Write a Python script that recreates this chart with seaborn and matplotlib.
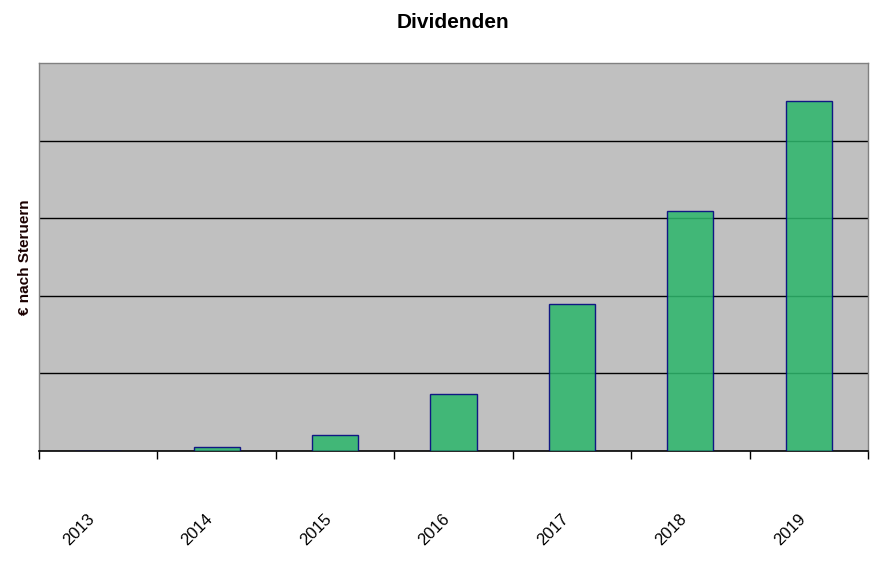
import matplotlib
matplotlib.use("Agg")
import matplotlib.pyplot as plt
import matplotlib.transforms as mtransforms
import seaborn as sns
import pandas as pd

years = ["2013", "2014", "2015", "2016", "2017", "2018", "2019"]
dividends = [0, 4.8, 20, 73, 189, 309, 451]

sns.set_theme(style="white")
plt.rcParams['font.family'] = ['Liberation Sans', 'DejaVu Sans']
plt.rcParams['text.color'] = 'black'
plt.rcParams['xtick.color'] = 'black'
plt.rcParams['axes.labelcolor'] = 'black'

df = pd.DataFrame({"Jahr": years, "Dividende": dividends})

fig, ax = plt.subplots(figsize=(8.85, 5.75), dpi=100)
fig.subplots_adjust(left=39/885, right=868/885, top=1-63/575, bottom=1-451/575)
ax.set_facecolor("#c0c0c0")

sns.barplot(data=df, x="Jahr", y="Dividende", ax=ax, color="#2eb66c",
            width=0.39, edgecolor="#000080", linewidth=1.0, alpha=0.87,
            saturation=1, zorder=3)

ax.set_ylim(0, 500)
ax.set_xlim(-0.5, len(years) - 0.5)
ax.set_yticks([100, 200, 300, 400])
ax.yaxis.grid(True, color="black", linewidth=1.0, zorder=1)
ax.set_axisbelow(True)
ax.tick_params(axis="y", left=False, labelleft=False)

ax.set_xticks(range(len(years)))
ax.set_xticklabels(years, rotation=45, ha="right", rotation_mode="anchor",
                   va="center", fontsize=12, color="black")
ax.tick_params(axis="x", which="major", length=0, pad=47)
offset = mtransforms.ScaledTranslation(-6/100, 0, fig.dpi_scale_trans)
for lbl in ax.get_xticklabels():
    lbl.set_transform(lbl.get_transform() + offset)
ax.set_xticks([i - 0.5 for i in range(len(years) + 1)], minor=True)
ax.tick_params(axis="x", which="minor", length=6, width=1, color="black",
               direction="out", bottom=True)

for s in ["top", "right", "left"]:
    ax.spines[s].set_color("#808080")
    ax.spines[s].set_linewidth(1)
ax.spines["bottom"].set_color("black")
ax.spines["bottom"].set_linewidth(1.2)

ax.set_xlabel("")
ax.set_ylabel("€ nach Steruern", fontsize=11, fontweight="bold", color="#1a0000", labelpad=5)
fig.text(453/885, 1 - 22/575, "Dividenden", ha="center", va="center",
         fontsize=15, fontweight="bold", color="black")

fig.savefig("out.png", dpi=100)
